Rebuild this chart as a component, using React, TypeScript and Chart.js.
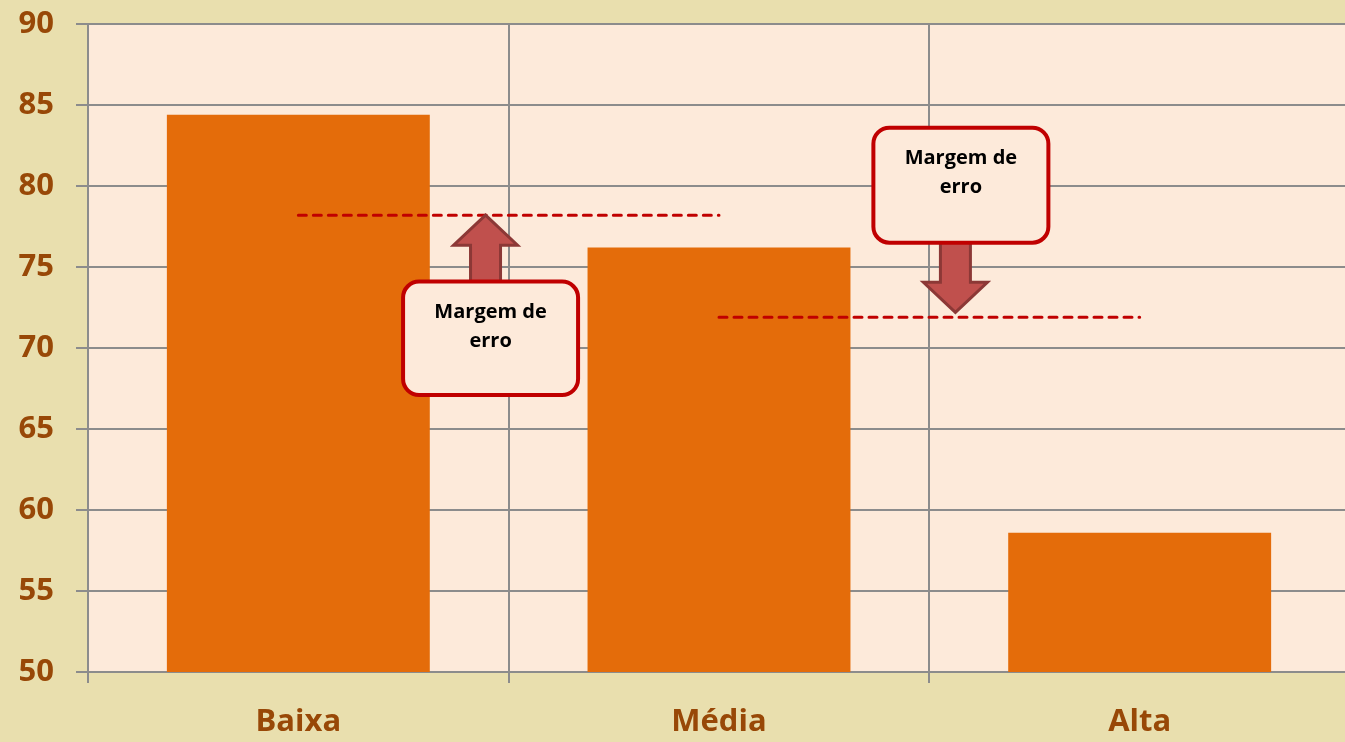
import React, { useEffect, useRef } from "react";
import { Chart, registerables } from "chart.js";

Chart.register(...registerables);

// ---- data ----
const categories = ["Baixa", "Média", "Alta"];
const values = [84.4, 76.2, 58.6];
const yTicks = [50, 55, 60, 65, 70, 75, 80, 85, 90];
// dashed "margin" lines: from category index to category index, at a value
const marginFrom = [0, 1];
const marginTo = [1, 2];
const marginValues = [78.2, 71.9];
// callouts: centre x (category units), box top/bottom (values), arrow x, arrow tip (value)
const calloutX = [0.457, 1.575];
const calloutTop = [74.1, 83.6];
const calloutBottom = [67.1, 76.5];
const arrowX = [0.445, 1.562];
const arrowTip = [78.2, 72.2];
const calloutLines = ["Margem de", "erro"];

const PARCHMENT = "#e9dfae";
const PLOT_BG = "#fdeada";
const GRID = "#8c8c8c";
const LABEL = "#984807";
const FONT = "'Open Sans', 'Noto Sans', sans-serif";

function roundRect(ctx: CanvasRenderingContext2D, x: number, y: number, w: number, h: number, r: number) {
  ctx.beginPath();
  ctx.moveTo(x + r, y);
  ctx.lineTo(x + w - r, y);
  ctx.arcTo(x + w, y, x + w, y + r, r);
  ctx.lineTo(x + w, y + h - r);
  ctx.arcTo(x + w, y + h, x + w - r, y + h, r);
  ctx.lineTo(x + r, y + h);
  ctx.arcTo(x, y + h, x, y + h - r, r);
  ctx.lineTo(x, y + r);
  ctx.arcTo(x, y, x + r, y, r);
  ctx.closePath();
}

const backgroundPlugin = {
  id: "bg",
  beforeDraw(chart: any) {
    const { ctx, chartArea } = chart;
    ctx.save();
    ctx.fillStyle = PARCHMENT;
    ctx.fillRect(0, 0, chart.width, chart.height);
    ctx.fillStyle = PLOT_BG;
    ctx.fillRect(chartArea.left, chartArea.top, chartArea.right - chartArea.left, chartArea.bottom - chartArea.top);
    ctx.restore();
  },
};

const annotationPlugin = {
  id: "annot",
  afterDatasetsDraw(chart: any) {
    const { ctx } = chart;
    const xs = chart.scales.x;
    const ys = chart.scales.y;
    const catW = xs.getPixelForValue(1) - xs.getPixelForValue(0);
    const xAt = (v: number) => xs.getPixelForValue(0) + v * catW;
    ctx.save();
    // dashed lines
    ctx.strokeStyle = "#c00000";
    ctx.lineWidth = 3;
    ctx.lineCap = "round";
    ctx.setLineDash([8, 7]);
    for (let i = 0; i < marginValues.length; i++) {
      const y = ys.getPixelForValue(marginValues[i]);
      ctx.beginPath();
      ctx.moveTo(xAt(marginFrom[i]), y);
      ctx.lineTo(xAt(marginTo[i]), y);
      ctx.stroke();
    }
    ctx.setLineDash([]);
    ctx.lineCap = "butt";
    // arrows and callouts
    const boxW = 175;
    for (let i = 0; i < calloutX.length; i++) {
      const top = ys.getPixelForValue(calloutTop[i]);
      const bottom = ys.getPixelForValue(calloutBottom[i]);
      const tipY = ys.getPixelForValue(arrowTip[i]);
      const ax = xAt(arrowX[i]);
      const startY = tipY < top ? top + 4 : bottom - 4;
      const dir = tipY > startY ? 1 : -1;
      const headBase = tipY - dir * 30;
      const sw = 15;
      const hw = 32;
      ctx.beginPath();
      ctx.moveTo(ax - sw, startY);
      ctx.lineTo(ax - sw, headBase);
      ctx.lineTo(ax - hw, headBase);
      ctx.lineTo(ax, tipY);
      ctx.lineTo(ax + hw, headBase);
      ctx.lineTo(ax + sw, headBase);
      ctx.lineTo(ax + sw, startY);
      ctx.closePath();
      ctx.fillStyle = "#c0504d";
      ctx.fill();
      ctx.strokeStyle = "#8c3836";
      ctx.lineWidth = 3;
      ctx.lineJoin = "miter";
      ctx.stroke();

      const cx = xAt(calloutX[i]);
      roundRect(ctx, cx - boxW / 2, top, boxW, bottom - top, 16);
      ctx.fillStyle = PLOT_BG;
      ctx.fill();
      ctx.strokeStyle = "#c00000";
      ctx.lineWidth = 4;
      ctx.stroke();

      ctx.fillStyle = "#000000";
      ctx.font = `bold 20px ${FONT}`;
      ctx.textAlign = "center";
      ctx.textBaseline = "middle";
      calloutLines.forEach((t, k) => {
        ctx.fillText(t, cx, top + 31 + k * 29);
      });
    }
    ctx.restore();
  },
};

export default function App() {
  const ref = useRef<HTMLCanvasElement | null>(null);
  useEffect(() => {
    document.body.style.margin = "0";
    const canvas = ref.current!;
    const chart = new Chart(canvas, {
      type: "bar",
      data: {
        labels: categories,
        datasets: [
          {
            data: values,
            backgroundColor: "#e46c0a",
            borderWidth: 0,
            categoryPercentage: 1,
            barPercentage: 0.625,
          },
        ],
      },
      options: {
        animation: false,
        responsive: false,
        layout: { autoPadding: false, padding: { top: 24, left: 0, right: 0, bottom: 0 } },
        plugins: { legend: { display: false }, tooltip: { enabled: false } },
        scales: {
          x: {
            afterFit: (s: any) => {
              s.height = 70;
              s.paddingLeft = 0;
              s.paddingRight = 0;
            },
            grid: { offset: true, color: GRID, lineWidth: 2, tickLength: 11, drawTicks: true },
            border: { display: true, color: GRID, width: 2 },
            ticks: { color: LABEL, font: { family: FONT, weight: "bold", size: 31 }, padding: 21 },
          },
          y: {
            min: 50,
            max: 90,
            afterFit: (s: any) => {
              s.width = 88;
              s.paddingTop = 0;
              s.paddingBottom = 0;
            },
            afterBuildTicks: (s: any) => {
              s.ticks = yTicks.map((v) => ({ value: v }));
            },
            grid: { color: GRID, lineWidth: 2, tickLength: 12, drawTicks: true },
            border: { display: true, color: GRID, width: 2 },
            ticks: { color: LABEL, font: { family: FONT, weight: "bold", size: 31 }, padding: 22 },
          },
        },
      },
      plugins: [backgroundPlugin, annotationPlugin],
    });
    return () => chart.destroy();
  }, []);
  return (
    <div style={{ position: "absolute", left: 0, top: 0, width: 1345, height: 742, overflow: "hidden" }}>
      <canvas ref={ref} width={1350} height={742} style={{ display: "block" }} />
    </div>
  );
}
